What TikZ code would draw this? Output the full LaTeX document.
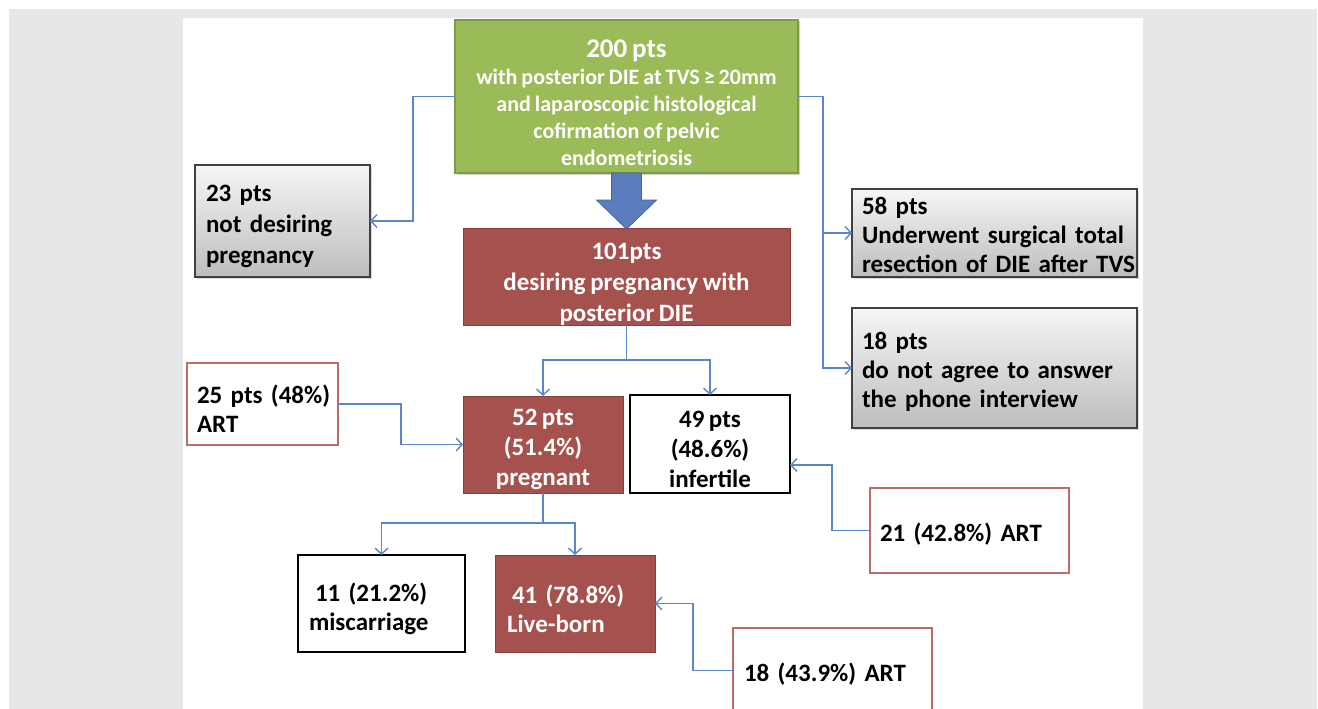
\documentclass[tikz,border=0pt]{standalone}
\usepackage{fontspec}
\setmainfont{Carlito}[WordSpace=0.8]
\usetikzlibrary{arrows.meta,calc,shadows}
\definecolor{bggrey}{HTML}{E6E7E8}
\definecolor{gfill}{HTML}{9BBB59}
\definecolor{gborder}{HTML}{7E9C45}
\definecolor{rfill}{HTML}{A5524E}
\definecolor{rborder}{HTML}{8A3E3A}
\definecolor{connc}{HTML}{5B86C8}
\definecolor{arrowc}{HTML}{5B7DBE}
\definecolor{arrowdark}{HTML}{41649E}
\definecolor{rline}{HTML}{BE6A66}
\definecolor{gtop}{HTML}{F6F6F6}
\definecolor{gbot}{HTML}{BDBDBD}
\definecolor{gdark}{HTML}{404040}
\tikzset{
  base/.style={inner ysep=0pt, outer sep=0pt, font=\bfseries\fontsize{25}{30}\selectfont},
  greenbox/.style={base, fill=gfill, draw=gborder, line width=1.5pt, text=white, align=center,
    drop shadow={shadow xshift=1.5pt, shadow yshift=-1.5pt, opacity=0.35}},
  redbox/.style={base, fill=rfill, draw=rborder, line width=1pt, text=white},
  greybox/.style={base, top color=gtop, bottom color=gbot, draw=gdark, line width=1.8pt,
    align=left, drop shadow={shadow xshift=1.5pt, shadow yshift=-1.5pt, opacity=0.3}},
  artbox/.style={base, fill=white, draw=rline, line width=1.5pt, align=left},
  blackbox/.style={base, fill=white, draw=black, line width=2pt},
  conn/.style={draw=connc, line width=1.4pt, -{Straight Barb[length=6pt,width=13pt]}},
  plain/.style={draw=connc, line width=1.4pt},
}
\begin{document}
\begin{tikzpicture}[x=1pt,y=-1pt]
\useasboundingbox (0,0) rectangle (1318,709);
\fill[white] (0,0) rectangle (1318,709);
\fill[bggrey] (9,9) rectangle (1317,709);
\fill[white] (183,18) rectangle (1143,709);

% top box
\node[greenbox, minimum width=343pt, minimum height=153pt, font=\bfseries\fontsize{22}{27}\selectfont]
  (g) at (626.5,96.5) {\rule{0pt}{30pt}{\fontsize{27}{27}\selectfont 200 pts}\\ with posterior DIE at TVS ≥ 20mm\\ and laparoscopic histological\\ cofirmation of pelvic\\ endometriosis};

\node[greybox, minimum height=112pt, text width=153pt, inner xsep=11pt, font=\bfseries\fontsize{25}{31}\selectfont]
  (b23) at (282.5,221) {\rule{0pt}{28pt}23 pts\\ not desiring\\ pregnancy};
\node[greybox, minimum height=88pt, text width=265pt, inner xsep=10pt, font=\bfseries\fontsize{25}{29}\selectfont]
  (b58) at (994.5,233) {\rule{0pt}{22pt}58 pts\\ \mbox{Underwent surgical total}\\ \mbox{resection of DIE after TVS}};
\node[greybox, minimum height=120pt, text width=265pt, inner xsep=10pt, font=\bfseries\fontsize{25}{29}\selectfont]
  (b18) at (994.5,368) {\rule{0pt}{25pt}18 pts\\ \mbox{do not agree to answer}\\ \mbox{the phone interview}};

\node[redbox, align=center, minimum width=327pt, minimum height=97pt, font=\bfseries\fontsize{25}{31}\selectfont]
  (b101) at (626.5,276.5) {\rule{0pt}{31pt}101pts\\ desiring pregnancy with\\ posterior DIE};

\node[redbox, align=center, minimum width=160pt, minimum height=97pt]
  (b52) at (543,444.5) {\rule{0pt}{27pt}52 pts\\ (51.4\%)\\ pregnant};
\node[blackbox, align=center, minimum width=160pt, minimum height=98pt]
  (b49) at (710,444) {\rule{0pt}{27pt}49 pts\\ (48.6\%)\\ infertile};

\node[artbox, minimum height=82pt, text width=131pt, inner xsep=10pt, font=\bfseries\fontsize{25}{29}\selectfont]
  (b25) at (262.5,404) {\rule{0pt}{27pt}\mbox{25 pts (48\%)}\\ ART};
\node[artbox, minimum height=85pt, text width=179pt, inner xsep=10pt]
  (b21) at (969.5,530.5) {\rule{0pt}{26pt}\mbox{21 (42.8\%) ART}};

\node[blackbox, align=left, minimum height=97pt, text width=145pt, inner xsep=11pt, font=\bfseries\fontsize{25}{29}\selectfont]
  (bmis) at (381.5,603.5) {\rule{0pt}{29pt}\hspace*{6pt}11 (21.2\%)\\ miscarriage};
\node[redbox, align=left, minimum height=97pt, text width=136pt, inner xsep=12pt, font=\bfseries\fontsize{25}{29}\selectfont]
  (blive) at (575,603.5) {\rule{0pt}{29pt}\hspace*{5pt}41 (78.8\%)\\ Live-born};
\node[artbox, minimum height=85pt, text width=177pt, inner xsep=11pt]
  (b18art) at (832.5,670.5) {\rule{0pt}{26pt}\mbox{18 (43.9\%) ART}};

% thick arrow
\filldraw[fill=arrowc, draw=arrowdark, line width=0.8pt, line join=miter]
  ($(g.south)+(-15,0)$) -- ($(g.south)+(15,0)$) -- ($(g.south)+(15,27)$) -- ($(g.south)+(30,27)$)
  -- ($(b101.north)+(0,1)$) -- ($(g.south)+(-30,27)$) -- ($(g.south)+(-15,27)$) -- cycle;

% connectors
\draw[conn] (g.west) -- ++(-42,0) |- (b23.east);
\coordinate (rj) at ($(g.east)+(25,0)$);
\draw[plain] (g.east) -- (rj);
\draw[conn] (rj) |- (b58.west);
\draw[conn] (rj) |- (b18.west);

\coordinate (s1) at ($(b101.south)+(0,35)$);
\draw[plain] (b101.south) -- (s1);
\draw[conn] (s1) -| (b52.north);
\draw[conn] (s1) -| (b49.north);

\draw[conn] (b25.east) -- ++(63,0) |- (b52.west);
\draw[conn] (b21.west) -- ++(-38,0) |- ($(b49.east)+(0,21)$);

\coordinate (s2) at ($(b52.south)+(0,30)$);
\draw[plain] (b52.south) -- (s2);
\draw[conn] (s2) -| (bmis.north);
\draw[conn] (s2) -| (blive.north);

\draw[conn] (b18art.west) -- ++(-40,0) |- (blive.east);
\end{tikzpicture}
\end{document}
